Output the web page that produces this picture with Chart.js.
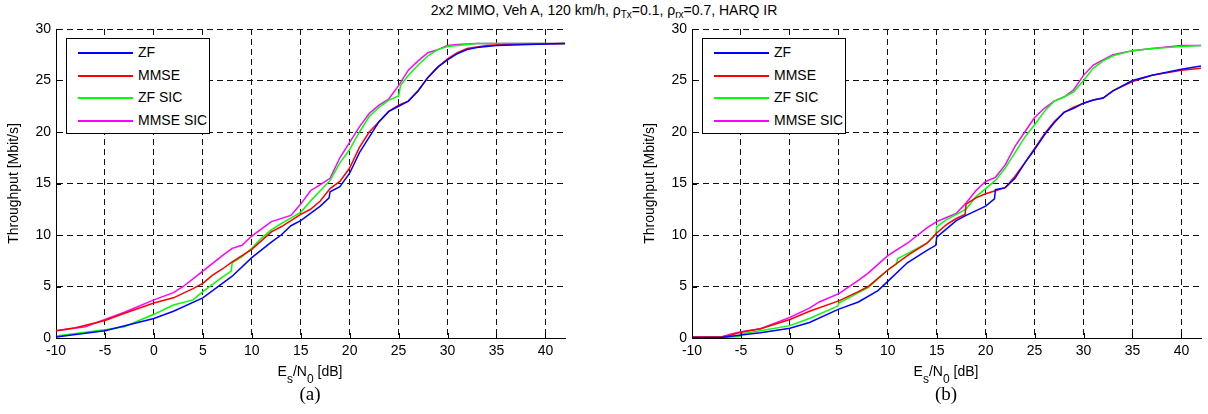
<!DOCTYPE html>
<html>
<head>
<meta charset="utf-8">
<script src="https://cdn.jsdelivr.net/npm/chart.js@4.4.1/dist/chart.umd.min.js"></script>
<style>
body{margin:0;background:#fff;width:1208px;height:414px;position:relative;overflow:hidden;font-family:Arial,"Liberation Sans",sans-serif;color:#000}
canvas{position:absolute;top:0}
#chartA{left:0}
#chartB{left:636px}
.title{position:absolute;top:2px;left:0;width:1208px;text-align:center;font-size:14px;white-space:nowrap}
.title sub{font-size:10px;vertical-align:-3px;line-height:0}
.xlab{position:absolute;top:363px;width:200px;text-align:center;font-size:14px;white-space:nowrap}
.xlab sub{font-size:12px;vertical-align:-7px;line-height:0}
.panel{position:absolute;top:383px;width:100px;text-align:center;font-family:"Liberation Serif","Times New Roman",serif;font-size:19px}
.legend{position:absolute;top:38px;width:142px;height:94px;border:1.5px solid #000;background:#fff}
.row{position:absolute;left:0;height:20px;width:140px}
.row i{position:absolute;left:11px;top:9px;width:55px;height:2px}
.row span{position:absolute;left:71px;top:1px;font-size:14px;white-space:nowrap}
</style>
</head>
<body>
<div class="title">2x2 MIMO, Veh A, 120 km/h, &rho;<sub>Tx</sub>=0.1, &rho;<sub>rx</sub>=0.7, HARQ IR</div>
<canvas id="chartA" width="604" height="414"></canvas>
<canvas id="chartB" width="572" height="414"></canvas>
<div class="xlab" style="left:210px">E<sub>s</sub>/N<sub>0</sub> [dB]</div>
<div class="xlab" style="left:846px">E<sub>s</sub>/N<sub>0</sub> [dB]</div>
<div class="panel" style="left:260px">(a)</div>
<div class="panel" style="left:896px">(b)</div>
<div class="legend" id="legA" style="left:66px"></div>
<div class="legend" id="legB" style="left:702px"></div>
<script>
// series names and colours
const names = ["ZF", "MMSE", "ZF SIC", "MMSE SIC"]
const colors = ["#0000ff", "#ff0000", "#00ff00", "#ff00ff"]

// axis ranges
const xMin = -10, xMax = 42, xStep = 5
const yMin = 0, yMax = 30, yStep = 5

// (a) Es/N0 [dB] and throughput [Mbit/s]
const zfA_x = [-10,-5,0,2,5,7,8,10,12,13,14,15,17,17.9,18,19,20,21,22,23,24,25,26,27,28,29,30,31,32,33,35,40,42]
const zfA_y = [0.1,0.7,1.9,2.6,3.9,5.3,6.0,7.8,9.3,10.0,10.9,11.4,12.8,13.6,14.2,14.7,16.0,18.0,19.5,21.0,22.0,22.5,23.0,24.0,25.3,26.3,27.0,27.6,28.0,28.2,28.4,28.55,28.6]
const mmseA_x = [-10,-8,-5,-3,0,2,4,5,6,7,8,10,12,13,15,16,17,18,19,20,21,22,23,24,25,26,27,28,29,30,31,32,34,36,42]
const mmseA_y = [0.7,1.0,1.7,2.4,3.4,3.9,4.8,5.3,6.1,6.7,7.4,8.6,10.3,10.8,12.0,12.5,13.3,14.5,15.2,16.5,18.5,20.0,21.0,22.0,22.6,23.0,24.0,25.3,26.3,27.1,27.7,28.1,28.4,28.5,28.6]
const zfsicA_x = [-10,-5,-3,0,2,4,5,7,7.9,8,9,10,11,12,13,15,16,17,18,19,20,21,22,23,24,25,25.2,26,27,28,29,30,31,33,42]
const zfsicA_y = [0.2,0.8,1.1,2.3,3.2,3.7,4.5,5.9,6.5,7.3,7.9,8.7,9.7,10.5,11.1,12.2,13.3,14.3,15.3,17.0,18.3,20.0,21.5,22.4,23.1,23.5,24.5,25.5,26.5,27.4,28.0,28.3,28.4,28.6,28.6]
const mmsesicA_x = [-10,-7,-5,-3,0,2,3,5,7,8,9,10,12,14,15,16,17,18,19,20,21,22,23,24,25,26,27,28,29,30,31,33,42]
const mmsesicA_y = [0.7,1.1,1.8,2.5,3.7,4.4,5.0,6.5,8.0,8.7,9.0,9.9,11.3,11.9,13.0,14.3,14.9,15.5,17.5,19.0,20.5,21.8,22.6,23.2,24.5,26.0,26.9,27.7,28.0,28.4,28.5,28.6,28.6]

// (b)
const zfB_x = [-10,-7,-5,-3,0,2,5,7,9,10,12,14,14.9,15,16,17,18,20,20.9,21,22,23,24,25,26,27,28,29,30,31,32,33,35,37,40,42]
const zfB_y = [0.05,0.05,0.3,0.5,0.95,1.5,2.8,3.5,4.6,5.5,7.3,8.5,9.0,9.8,10.6,11.4,11.9,12.8,13.5,14.4,14.6,15.5,17.0,18.3,19.7,20.9,21.9,22.3,22.8,23.1,23.3,24.0,25.0,25.5,26.1,26.4]
const mmseB_x = [-10,-7,-6,-5,-3,0,2,5,7,8,10,12,14,15,16,17,17.9,18,19,20,21,22,23,24,25,26,27,28,29,30,31,32,33,35,37,40,42]
const mmseB_y = [0.1,0.1,0.3,0.55,0.9,1.8,2.6,3.6,4.5,5.0,6.6,8.0,9.2,10.2,11.0,11.6,12.0,13.0,13.6,14.0,14.3,14.6,15.7,17.0,18.4,19.8,21.0,21.9,22.4,22.8,23.1,23.3,24.0,24.9,25.5,26.0,26.2]
const zfsicB_x = [-10,-7,-5.1,-5,-3,0,2,4.9,5,7,8,10,10.9,11,12,14,14.9,15,16,18,19,20,21,22,23,24,25,26,27,28,29,30,31,32,33,35,37,40,42]
const zfsicB_y = [0.05,0.05,0.15,0.4,0.7,1.2,1.9,3.1,3.4,4.4,4.9,6.6,7.2,7.7,8.2,9.2,10.0,10.8,11.5,12.5,13.7,14.5,15.3,16.5,18.0,19.5,20.7,22.0,23.0,23.4,23.9,25.0,26.2,26.9,27.4,27.9,28.1,28.3,28.4]
const mmsesicB_x = [-10,-7,-6,-5,-3,0,2,3,5,7,8,10,12,14,15,16,17,18,19,20,21,22,23,24,25,26,27,28,29,30,31,32,33,35,37,40,42]
const mmsesicB_y = [0.05,0.1,0.4,0.6,0.9,2.0,2.9,3.5,4.3,5.6,6.3,8.0,9.2,10.7,11.3,11.7,12.1,13.1,14.3,15.2,15.6,16.8,18.6,20.0,21.4,22.3,23.0,23.4,24.1,25.5,26.5,27.0,27.5,27.9,28.1,28.4,28.4]

const font14 = {family: "Arial, 'Liberation Sans', sans-serif", size: 14}

// little inward tick marks like the matlab axes
const innerTicks = {
    id: "innerTicks",
    afterDatasetsDraw(chart) {
        const {ctx, chartArea, scales} = chart
        ctx.save()
        ctx.strokeStyle = "#000"
        ctx.lineWidth = 1
        ctx.beginPath()
        scales.x.ticks.forEach(t => {
            const px = Math.round(scales.x.getPixelForValue(t.value)) + 0.5
            ctx.moveTo(px, chartArea.bottom)
            ctx.lineTo(px, chartArea.bottom - 5)
        })
        scales.y.ticks.forEach(t => {
            const py = Math.round(scales.y.getPixelForValue(t.value)) + 0.5
            ctx.moveTo(chartArea.left, py)
            ctx.lineTo(chartArea.left + 5, py)
        })
        ctx.stroke()
        ctx.restore()
    }
}

function pts(xs, ys) {
    return xs.map((x, i) => ({x: x, y: ys[i]}))
}

function makeChart(id, series, padRight) {
    const ctx = document.getElementById(id).getContext("2d")
    return new Chart(ctx, {
        type: "line",
        data: {
            datasets: series.map((s, i) => ({
                label: names[i],
                data: pts(s[0], s[1]),
                borderColor: colors[i],
                backgroundColor: colors[i],
                borderWidth: 1.5,
                pointRadius: 0,
                tension: 0,
                fill: false
            }))
        },
        options: {
            responsive: false,
            animation: false,
            devicePixelRatio: 1,
            layout: {padding: {top: 29, right: padRight, left: 0, bottom: 0}},
            plugins: {legend: {display: false}, tooltip: {enabled: false}},
            scales: {
                x: {
                    type: "linear",
                    min: xMin,
                    max: xMax,
                    ticks: {stepSize: xStep, includeBounds: false, padding: 5, color: "#000", font: font14, maxRotation: 0, autoSkip: false},
                    grid: {color: "#111", lineWidth: 1, drawTicks: false},
                    border: {display: true, color: "#000", width: 1, dash: [6, 4]},
                    afterFit: s => { s.height = 76 }
                },
                y: {
                    min: yMin,
                    max: yMax,
                    ticks: {stepSize: yStep, padding: 5, color: "#000", font: font14},
                    grid: {color: "#111", lineWidth: 1, drawTicks: false},
                    border: {display: true, color: "#000", width: 1, dash: [6, 4]},
                    title: {display: true, text: "Throughput [Mbit/s]", color: "#000", font: font14, padding: {top: 6, bottom: 0}},
                    afterFit: s => { s.width = 56 }
                }
            }
        },
        plugins: [innerTicks]
    })
}

function buildLegend(chart, boxId) {
    const box = document.getElementById(boxId)
    chart.data.datasets.forEach((ds, i) => {
        const row = document.createElement("div")
        row.className = "row"
        row.style.top = Math.round(4 + i * 22.7) + "px"
        row.innerHTML = `<i style="background:${ds.borderColor}"></i><span>${ds.label}</span>`
        box.appendChild(row)
    })
}

const chartA = makeChart("chartA", [[zfA_x, zfA_y], [mmseA_x, mmseA_y], [zfsicA_x, zfsicA_y], [mmsesicA_x, mmsesicA_y]], 39)
const chartB = makeChart("chartB", [[zfB_x, zfB_y], [mmseB_x, mmseB_y], [zfsicB_x, zfsicB_y], [mmsesicB_x, mmsesicB_y]], 7)
buildLegend(chartA, "legA")
buildLegend(chartB, "legB")
</script>
</body>
</html>
